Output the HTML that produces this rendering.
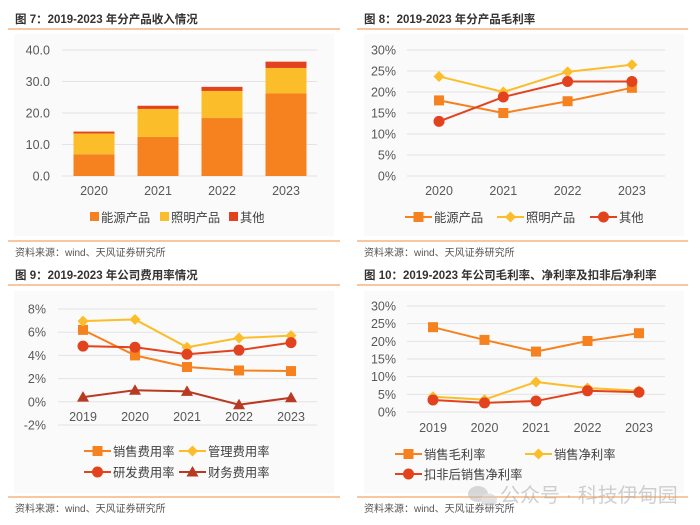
<!DOCTYPE html>
<html><head><meta charset="utf-8">
<style>
body{margin:0;background:#fff;}
svg{display:block;font-family:"Liberation Sans","Noto Sans CJK SC",sans-serif;}
.t{font-size:11.5px;font-weight:bold;fill:#333;}
.src{font-size:10px;fill:#555;}
.tick{font-size:12.5px;fill:#595959;}
.leg{font-size:12.3px;fill:#404040;}
</style></head>
<body>
<svg id="s" width="700" height="525" viewBox="0 0 700 525" xmlns="http://www.w3.org/2000/svg">
<rect x="14" y="34" width="320" height="202" fill="#fafafa"/>
<rect x="364" y="34" width="320" height="202" fill="#fafafa"/>
<rect x="14" y="291" width="320" height="202" fill="#fafafa"/>
<rect x="364" y="291" width="320" height="202" fill="#fafafa"/>
<text class="t" x="15" y="23">图 7：2019-2023 年分产品收入情况</text>
<text class="t" x="364" y="23">图 8：2019-2023 年分产品毛利率</text>
<text class="t" x="15" y="279">图 9：2019-2023 年公司费用率情况</text>
<text class="t" x="364" y="279">图 10：2019-2023 年公司毛利率、净利率及扣非后净利率</text>
<line x1="8" y1="29" x2="340" y2="29" stroke="#f8c7a0" stroke-width="2"/>
<line x1="357" y1="29" x2="688" y2="29" stroke="#f8c7a0" stroke-width="2"/>
<line x1="8" y1="285" x2="340" y2="285" stroke="#f8c7a0" stroke-width="2"/>
<line x1="357" y1="285" x2="688" y2="285" stroke="#f8c7a0" stroke-width="2"/>
<line x1="8" y1="241" x2="340" y2="241" stroke="#f8c7a0" stroke-width="2"/>
<line x1="357" y1="241" x2="688" y2="241" stroke="#f8c7a0" stroke-width="2"/>
<line x1="8" y1="497" x2="340" y2="497" stroke="#f8c7a0" stroke-width="2"/>
<line x1="357" y1="497" x2="688" y2="497" stroke="#f8c7a0" stroke-width="2"/>
<text class="src" x="15" y="256">资料来源：wind、天风证券研究所</text>
<text class="src" x="364" y="256">资料来源：wind、天风证券研究所</text>
<text class="src" x="15" y="512">资料来源：wind、天风证券研究所</text>
<text class="src" x="364" y="512">资料来源：wind、天风证券研究所</text>
<g opacity="0.55">
<ellipse cx="478" cy="494" rx="10" ry="8" fill="#bbb"/><ellipse cx="489" cy="500" rx="8" ry="6.5" fill="#ccc"/>
<text x="500" y="502" font-size="20" fill="#aaa">公众号 · 科技伊甸园</text>
</g>
</svg>
<script>
const NS="http://www.w3.org/2000/svg";
const svg=document.getElementById('s');
function mk(tag,a,parent){const e=document.createElementNS(NS,tag);for(const k in a)e.setAttribute(k,a[k]);(parent||svg).appendChild(e);return e;}
const OR="#f5821f",YE="#fbbd2a",RD="#e2431e",DR="#b83a22";

// Chart 7 data
const c7Years=["2020","2021","2022","2023"];
const c7Energy=[6.9,12.4,18.4,26.2];
const c7Lighting=[6.6,8.9,8.6,8.1];
const c7Other=[0.6,1.0,1.3,2.0];
const c7Ticks=[0,10,20,30,40];
// Chart 8 data
const c8Years=["2020","2021","2022","2023"];
const c8Energy=[18.0,15.0,17.8,21.0];
const c8Lighting=[23.7,20.0,24.8,26.5];
const c8Other=[13.0,18.8,22.5,22.5];
const c8Ticks=[0,5,10,15,20,25,30];
// Chart 9 data
const c9Years=["2019","2020","2021","2022","2023"];
const c9Sales=[6.2,4.0,3.0,2.7,2.65];
const c9Admin=[6.95,7.1,4.7,5.5,5.7];
const c9RD=[4.8,4.7,4.1,4.45,5.1];
const c9Fin=[0.4,1.0,0.9,-0.25,0.35];
const c9Ticks=[-2,0,2,4,6,8];
// Chart 10 data
const c10Years=["2019","2020","2021","2022","2023"];
const c10Gross=[24.0,20.4,17.1,20.1,22.3];
const c10Net=[4.3,3.5,8.5,6.8,6.0];
const c10Deduct=[3.4,2.6,3.1,6.0,5.6];
const c10Ticks=[0,5,10,15,20,25,30];

function axis(pfx,ticks,min,max,y0,y1,xl,xr,labRight,fmt){
  const ys=v=>y0-(v-min)/(max-min)*(y0-y1);
  ticks.forEach(t=>{
    const l=mk('line',{x1:xl,x2:xr,y1:ys(t),y2:ys(t),stroke:'#e3e3e3','stroke-width':1});
    
    
    const tx=mk('text',{x:labRight,y:ys(t)+4.5,'text-anchor':'end',class:'tick'});
    tx.textContent=fmt(t);
    
    
  });
  return ys;
}
function xlabels(pfx,years,xs,y){
  years.forEach((yr,i)=>{const t=mk('text',{x:xs(i),y:y,'text-anchor':'middle',class:'tick'});t.textContent=yr;
    
    });
}
function marker(type,x,y,c,pfx){
  let e;
  if(type==='sq')e=mk('rect',{x:x-5,y:y-5,width:10,height:10,fill:c});
  else if(type==='dia')e=mk('path',{d:`M${x} ${y-5.5}L${x+5.5} ${y}L${x} ${y+5.5}L${x-5.5} ${y}Z`,fill:c});
  else if(type==='cir')e=mk('circle',{cx:x,cy:y,r:5.5,fill:c});
  else e=mk('path',{d:`M${x} ${y-6}L${x+6} ${y+4.5}L${x-6} ${y+4.5}Z`,fill:c});
  
  
}
function series(pfx,vals,xs,ys,c,type){
  const p=mk('polyline',{points:vals.map((v,i)=>xs(i)+','+ys(v)).join(' '),fill:'none',stroke:c,'stroke-width':2});
  
  
  vals.forEach((v,i)=>marker(type,xs(i),ys(v),c,pfx));
}
function legLine(pfx,x,y,c,type,label){
  const l=mk('line',{x1:x,x2:x+27,y1:y,y2:y,stroke:c,'stroke-width':2});
  
  
  marker(type,x+13.5,y,c,pfx+'-legend');
  const t=mk('text',{x:x+29,y:y+5,class:'leg'});t.textContent=label;
  
  
}

// Chart 7
{
  const ys=axis('chart7',c7Ticks,0,40,176,50,62,317,50,t=>t.toFixed(1));
  const xs=i=>94+i*64;
  c7Years.forEach((yr,i)=>{
    let base=0;
    [[c7Energy,OR,'energy'],[c7Lighting,YE,'lighting'],[c7Other,RD,'other']].forEach(([arr,c,n])=>{
      const v=arr[i];
      const r=mk('rect',{x:xs(i)-20.5,y:ys(base+v),width:41,height:ys(base)-ys(base+v),fill:c});
      
      
      base+=v;
    });
  });
  xlabels('chart7',c7Years,xs,195);
  [[90,OR,'能源产品'],[160,YE,'照明产品'],[229,RD,'其他']].forEach(([x,c,l])=>{
    const r=mk('rect',{x:x,y:212,width:9,height:9,fill:c});
    
    
    const t=mk('text',{x:x+11,y:222,class:'leg'});t.textContent=l;
    
    
  });
}
// Chart 8
{
  const ys=axis('chart8',c8Ticks,0,30,176,50,407,665,396,t=>t+'%');
  const xs=i=>439+i*64.3;
  series('chart8-energy',c8Energy,xs,ys,OR,'sq');
  series('chart8-lighting',c8Lighting,xs,ys,YE,'dia');
  series('chart8-other',c8Other,xs,ys,RD,'cir');
  xlabels('chart8',c8Years,xs,195);
  legLine('chart8-energy',405,217,OR,'sq','能源产品');
  legLine('chart8-lighting',497,217,YE,'dia','照明产品');
  legLine('chart8-other',590,217,RD,'cir','其他');
}
// Chart 9
{
  const ys=axis('chart9',c9Ticks,-2,8,425,309,58,317,46,t=>t+'%');
  const xs=i=>83+i*52;
  series('chart9-sales',c9Sales,xs,ys,OR,'sq');
  series('chart9-admin',c9Admin,xs,ys,YE,'dia');
  series('chart9-rd',c9RD,xs,ys,RD,'cir');
  series('chart9-fin',c9Fin,xs,ys,DR,'tri');
  xlabels('chart9',c9Years,xs,421);
  legLine('chart9-sales',84,451,OR,'sq','销售费用率');
  legLine('chart9-admin',179,451,YE,'dia','管理费用率');
  legLine('chart9-rd',84,472,RD,'cir','研发费用率');
  legLine('chart9-fin',179,472,DR,'tri','财务费用率');
}
// Chart 10
{
  const ys=axis('chart10',c10Ticks,0,30,412,306,407,665,396,t=>t+'%');
  const xs=i=>433+i*51.5;
  series('chart10-gross',c10Gross,xs,ys,OR,'sq');
  series('chart10-net',c10Net,xs,ys,YE,'dia');
  series('chart10-deduct',c10Deduct,xs,ys,RD,'cir');
  xlabels('chart10',c10Years,xs,432);
  legLine('chart10-gross',395,454,OR,'sq','销售毛利率');
  legLine('chart10-net',525,454,YE,'dia','销售净利率');
  legLine('chart10-deduct',395,474,RD,'cir','扣非后销售净利率');
}
</script>
</body></html>
